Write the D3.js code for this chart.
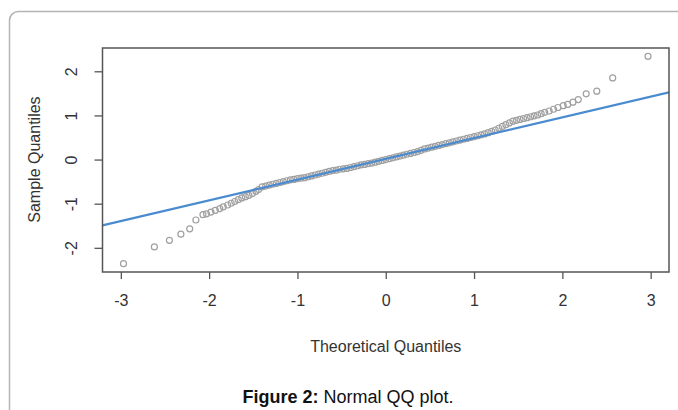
<!DOCTYPE html>
<html>
<head>
<meta charset="utf-8">
<script src="https://cdn.jsdelivr.net/npm/d3@7"></script>
<style>
  html, body { margin: 0; padding: 0; background: #fff; }
  svg { display: block; font-family: "Liberation Sans", Arial, sans-serif; }
</style>
</head>
<body>
<svg id="svg" width="678" height="410"></svg>
<script>
// --- Data -------------------------------------------------------------------
const theoretical = [
  -2.97, -2.62, -2.45, -2.32, -2.22, -2.15, -2.07,
  -2.03, -1.98, -1.93, -1.88, -1.84, -1.79, -1.75, -1.71, -1.67, -1.63, -1.59, -1.55, -1.51, -1.47, -1.44,
  -1.40, -1.36, -1.32, -1.28, -1.24, -1.20, -1.16, -1.12, -1.08, -1.04,
  -1.00, -0.96, -0.92, -0.88, -0.84, -0.80, -0.76, -0.72, -0.68, -0.64,
  -0.60, -0.56, -0.52, -0.48, -0.44, -0.40, -0.36, -0.32, -0.28, -0.24,
  -0.20, -0.16, -0.12, -0.08, -0.04, 0.00, 0.04, 0.08, 0.12, 0.16,
  0.20, 0.24, 0.28, 0.32, 0.36, 0.40, 0.44, 0.48, 0.52, 0.56,
  0.60, 0.64, 0.68, 0.72, 0.76, 0.80, 0.84, 0.88, 0.92, 0.96,
  1.00, 1.04, 1.08, 1.12, 1.16, 1.20, 1.24, 1.28, 1.32, 1.36,
  1.40, 1.44, 1.48, 1.52, 1.56, 1.60, 1.64, 1.68, 1.72, 1.76,
  1.80, 1.85, 1.90, 1.95, 2.01, 2.06, 2.12, 2.18, 2.27, 2.39, 2.57, 2.97
];
const sample = [
  -2.36, -1.98, -1.83, -1.69, -1.57, -1.37, -1.25,
  -1.23, -1.19, -1.15, -1.11, -1.07, -1.03, -0.99, -0.95, -0.91, -0.87, -0.84, -0.81, -0.77, -0.72, -0.68,
  -0.62, -0.60, -0.58, -0.56, -0.54, -0.52, -0.50, -0.48, -0.46, -0.45,
  -0.43, -0.42, -0.41, -0.39, -0.37, -0.35, -0.33, -0.31, -0.29, -0.27,
  -0.25, -0.24, -0.22, -0.21, -0.20, -0.18, -0.16, -0.14, -0.12, -0.11,
  -0.09, -0.08, -0.06, -0.04, -0.02, 0.00, 0.02, 0.04, 0.06, 0.08,
  0.10, 0.12, 0.14, 0.16, 0.18, 0.21, 0.24, 0.26, 0.28, 0.30,
  0.32, 0.34, 0.36, 0.38, 0.40, 0.42, 0.44, 0.46, 0.48, 0.50,
  0.52, 0.54, 0.56, 0.58, 0.61, 0.64, 0.67, 0.71, 0.75, 0.79,
  0.83, 0.87, 0.89, 0.91, 0.93, 0.95, 0.97, 0.99, 1.01, 1.04,
  1.07, 1.10, 1.14, 1.18, 1.22, 1.25, 1.30, 1.36, 1.49, 1.55, 1.85, 2.34
];
const xTicks = [-3, -2, -1, 0, 1, 2, 3];
const yTicks = [-2, -1, 0, 1, 2];
const qqLine = { intercept: 0.015, slope: 0.47 };

// --- Layout ----------------------------------------------------------------
const svg = d3.select("#svg");
const box = { left: 102.5, right: 669, top: 48, bottom: 272 };

// R style: extend the data range by 4% on each side
function rRange(ext) {
  const pad = (ext[1] - ext[0]) * 0.04;
  return [ext[0] - pad, ext[1] + pad];
}
const x = d3.scaleLinear().domain(rRange(d3.extent(theoretical))).range([box.left, box.right]);
const y = d3.scaleLinear().domain(rRange(d3.extent(sample))).range([box.bottom, box.top]);

// outer page frame
svg.append("rect")
  .attr("x", 9.5).attr("y", 11.5)
  .attr("width", 700).attr("height", 420)
  .attr("rx", 9)
  .attr("fill", "none").attr("stroke", "#b4b4b4").attr("stroke-width", 1.5);

// points
svg.append("g")
  .selectAll("circle")
  .data(theoretical.map((t, i) => [t, sample[i]]))
  .join("circle")
  .attr("cx", d => x(d[0])).attr("cy", d => y(d[1]))
  .attr("r", 3)
  .attr("fill", "none").attr("stroke", "#a0a0a0").attr("stroke-width", 1.2);

// reference line, clipped to the box
svg.append("clipPath").attr("id", "clip")
  .append("rect")
  .attr("x", box.left).attr("y", box.top)
  .attr("width", box.right - box.left).attr("height", box.bottom - box.top);
const xd = x.domain();
svg.append("line")
  .attr("clip-path", "url(#clip)")
  .attr("x1", x(xd[0])).attr("y1", y(qqLine.intercept + qqLine.slope * xd[0]))
  .attr("x2", x(xd[1])).attr("y2", y(qqLine.intercept + qqLine.slope * xd[1]))
  .attr("stroke", "#4a8bd0").attr("stroke-width", 2.2);

// box
svg.append("rect")
  .attr("x", box.left).attr("y", box.top)
  .attr("width", box.right - box.left).attr("height", box.bottom - box.top)
  .attr("fill", "none").attr("stroke", "#555").attr("stroke-width", 1.5);

// axes
const fmt = d => String(d);
const xAxis = svg.append("g")
  .attr("transform", `translate(0,${box.bottom})`)
  .call(d3.axisBottom(x).tickValues(xTicks).tickSize(7).tickPadding(16).tickFormat(fmt));
const yAxis = svg.append("g")
  .attr("transform", `translate(${box.left},0)`)
  .call(d3.axisLeft(y).tickValues(yTicks).tickSize(8).tickFormat(fmt));

for (const g of [xAxis, yAxis]) {
  g.select(".domain").remove();
  g.selectAll(".tick line").attr("stroke", "#555").attr("stroke-width", 1.3);
  g.selectAll(".tick text").attr("fill", "#333").attr("font-size", 16)
    .attr("font-family", "Liberation Sans, Arial, sans-serif");
}
// R draws y tick labels parallel to the axis
yAxis.selectAll(".tick text")
  .attr("x", null).attr("dy", null)
  .attr("text-anchor", "middle")
  .attr("transform", "translate(-31,0) rotate(-90) translate(0,5)");

// axis titles
svg.append("text")
  .attr("x", x(0)).attr("y", 352)
  .attr("text-anchor", "middle")
  .attr("font-size", 16).attr("fill", "#333")
  .text("Theoretical Quantiles");
svg.append("text")
  .attr("transform", `translate(40,${y(0)}) rotate(-90)`)
  .attr("text-anchor", "middle")
  .attr("font-size", 16).attr("fill", "#333")
  .text("Sample Quantiles");

// caption
const cap = svg.append("text")
  .attr("x", 348).attr("y", 403)
  .attr("text-anchor", "middle")
  .attr("font-size", 18).attr("fill", "#111");
cap.append("tspan").attr("font-weight", "bold").text("Figure 2:");
cap.append("tspan").text(" Normal QQ plot.");
</script>
</body>
</html>
